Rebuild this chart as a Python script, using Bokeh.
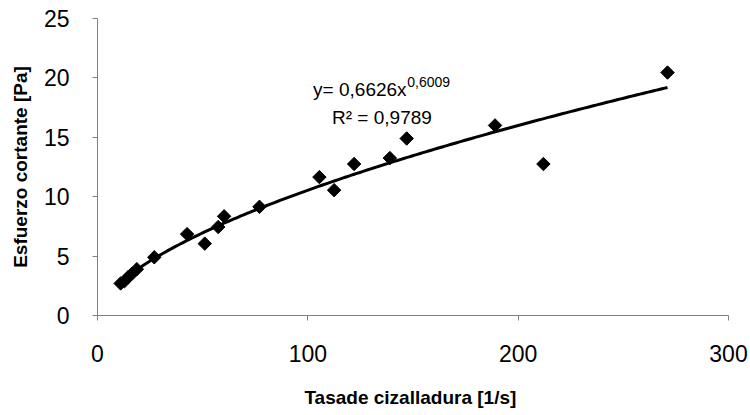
import numpy as np
from bokeh.plotting import figure
from bokeh.models import ColumnDataSource, Label, FixedTicker, Range1d
from bokeh.embed import file_html
from bokeh.resources import INLINE

# Data
shear_rate = [11.0, 12.9, 14.4, 16.3, 18.7, 27.0, 42.6, 51.0, 57.4, 60.2, 77.0,
              105.5, 112.5, 122.0, 139.0, 147.0, 189.0, 212.0, 271.0]
shear_stress = [2.7, 2.9, 3.2, 3.5, 3.9, 4.9, 6.85, 6.05, 7.45, 8.35, 9.15,
                11.65, 10.55, 12.75, 13.25, 14.9, 16.0, 12.75, 20.45]

# Power-law trendline as printed on the chart
coef_a = 0.6626
coef_b = 0.6009
r2_text = "R\u00b2 = 0,9789"
eq_text = "y= 0,6626x"
eq_exp = "0,6009"

x_ticks = [0, 100, 200, 300]
y_ticks = [0, 5, 10, 15, 20, 25]

FONT = "Liberation Sans"

p = figure(width=750, height=415, output_backend="svg", toolbar_location=None,
           x_range=Range1d(0, 300), y_range=Range1d(0, 25))
p.min_border_left = 97
p.min_border_right = 22
p.min_border_top = 18
p.min_border_bottom = 100
p.outline_line_color = None
p.grid.visible = False
p.background_fill_color = "white"
p.border_fill_color = "white"

for ax in (p.xaxis[0], p.yaxis[0]):
    ax.axis_line_color = "#808080"
    ax.axis_line_width = 1
    ax.major_tick_line_color = "#808080"
    ax.major_tick_in = 0
    ax.major_tick_out = 5
    ax.minor_tick_line_color = None
    ax.major_label_text_font = FONT
    ax.major_label_text_font_size = "23px"
    ax.major_label_text_color = "black"
    ax.axis_label_text_font = FONT
    ax.axis_label_text_font_style = "bold"
    ax.axis_label_text_font_size = "19px"
    ax.axis_label_text_color = "black"

p.xaxis.ticker = FixedTicker(ticks=x_ticks)
p.yaxis.ticker = FixedTicker(ticks=y_ticks)
p.xaxis.axis_label = "Tasade cizalladura  [1/s]"
p.yaxis.axis_label = "Esfuerzo cortante [Pa]"
p.xaxis.major_label_standoff = 24
p.xaxis.axis_label_standoff = 22
p.yaxis.major_label_standoff = 23
p.yaxis.axis_label_standoff = 10

# trendline
xs = np.linspace(min(shear_rate), max(shear_rate), 200)
ys = coef_a * xs ** coef_b
p.line(xs, ys, line_color="black", line_width=3)

src = ColumnDataSource(dict(x=shear_rate, y=shear_stress))
p.scatter("x", "y", source=src, marker="square", size=9.5, angle=np.pi / 4,
          fill_color="black", line_color="black")

p.add_layout(Label(x=102.5, y=18.1, text=eq_text, text_font=FONT,
                   text_font_size="19px", text_color="black"))
p.add_layout(Label(x=147.3, y=19.2, text=eq_exp, text_font=FONT,
                   text_font_size="14px", text_color="black"))
p.add_layout(Label(x=111.5, y=15.8, text=r2_text, text_font=FONT,
                   text_font_size="19px", text_color="black"))

open("out.html", "w").write(file_html(p, INLINE))
